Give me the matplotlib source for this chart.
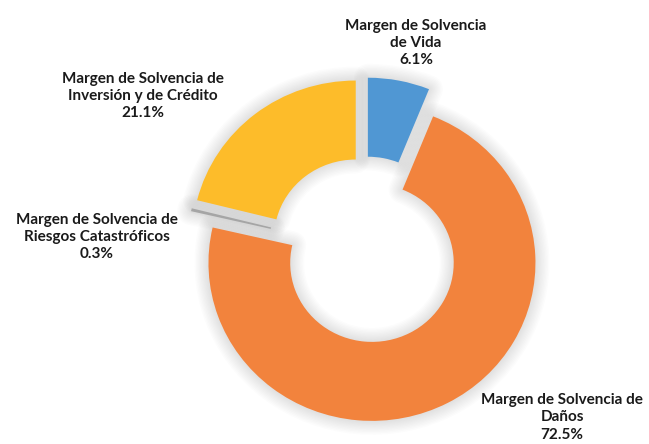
import matplotlib
matplotlib.use("Agg")
import matplotlib.pyplot as plt
import numpy as np

# datos del grafico
categorias = ["Margen de Solvencia\nde Vida",
              "Margen de Solvencia de\nDaños",
              "Margen de Solvencia de\nRiesgos Catastróficos",
              "Margen de Solvencia de\nInversión y de Crédito"]
porcentajes = [6.1, 72.5, 0.3, 21.1]
colores = ["#5097D3", "#F2833D", "#A5A5A5", "#FDBC2A"]

# posiciones de las etiquetas (unidades del eje, centro de la dona = 0,0)
pos_etiquetas = [(0.312, 1.31), (1.205, -1.06), (-1.639, 0.082), (-1.358, 0.975)]

explotar = [0.092] * len(porcentajes)
ancho = 0.5

fig = plt.figure(figsize=(6.49, 4.44), dpi=100)
ax = fig.add_axes([0, 0, 1, 1])

# sombra difusa: varias capas grises semitransparentes
for lw in np.linspace(20, 2, 10):
    sombras, _ = ax.pie(porcentajes, explode=explotar, startangle=90, counterclock=False,
                        wedgeprops=dict(width=ancho, facecolor="none", edgecolor="#8a8a8a",
                                        linewidth=lw, alpha=0.025, joinstyle="round"))

wedges, _ = ax.pie(porcentajes, colors=colores, explode=explotar, startangle=90,
                   counterclock=False, wedgeprops=dict(width=ancho, linewidth=0))

for cat, val, (x, y) in zip(categorias, porcentajes, pos_etiquetas):
    ax.text(x, y, f"{cat}\n{val:.1f}%", ha="center", va="center", fontsize=11,
            fontweight="bold", family="Lato", color="#1a1a1a", linespacing=1.3)

# la dona en la imagen original esta un poco achatada
ax.set_aspect("auto")
ax.set_xlim(-365 / 163.5, (649 - 365) / 163.5)
ax.set_ylim(-(444 - 250) / 158, 250 / 158)
ax.axis("off")

fig.savefig("out.png", dpi=100)
